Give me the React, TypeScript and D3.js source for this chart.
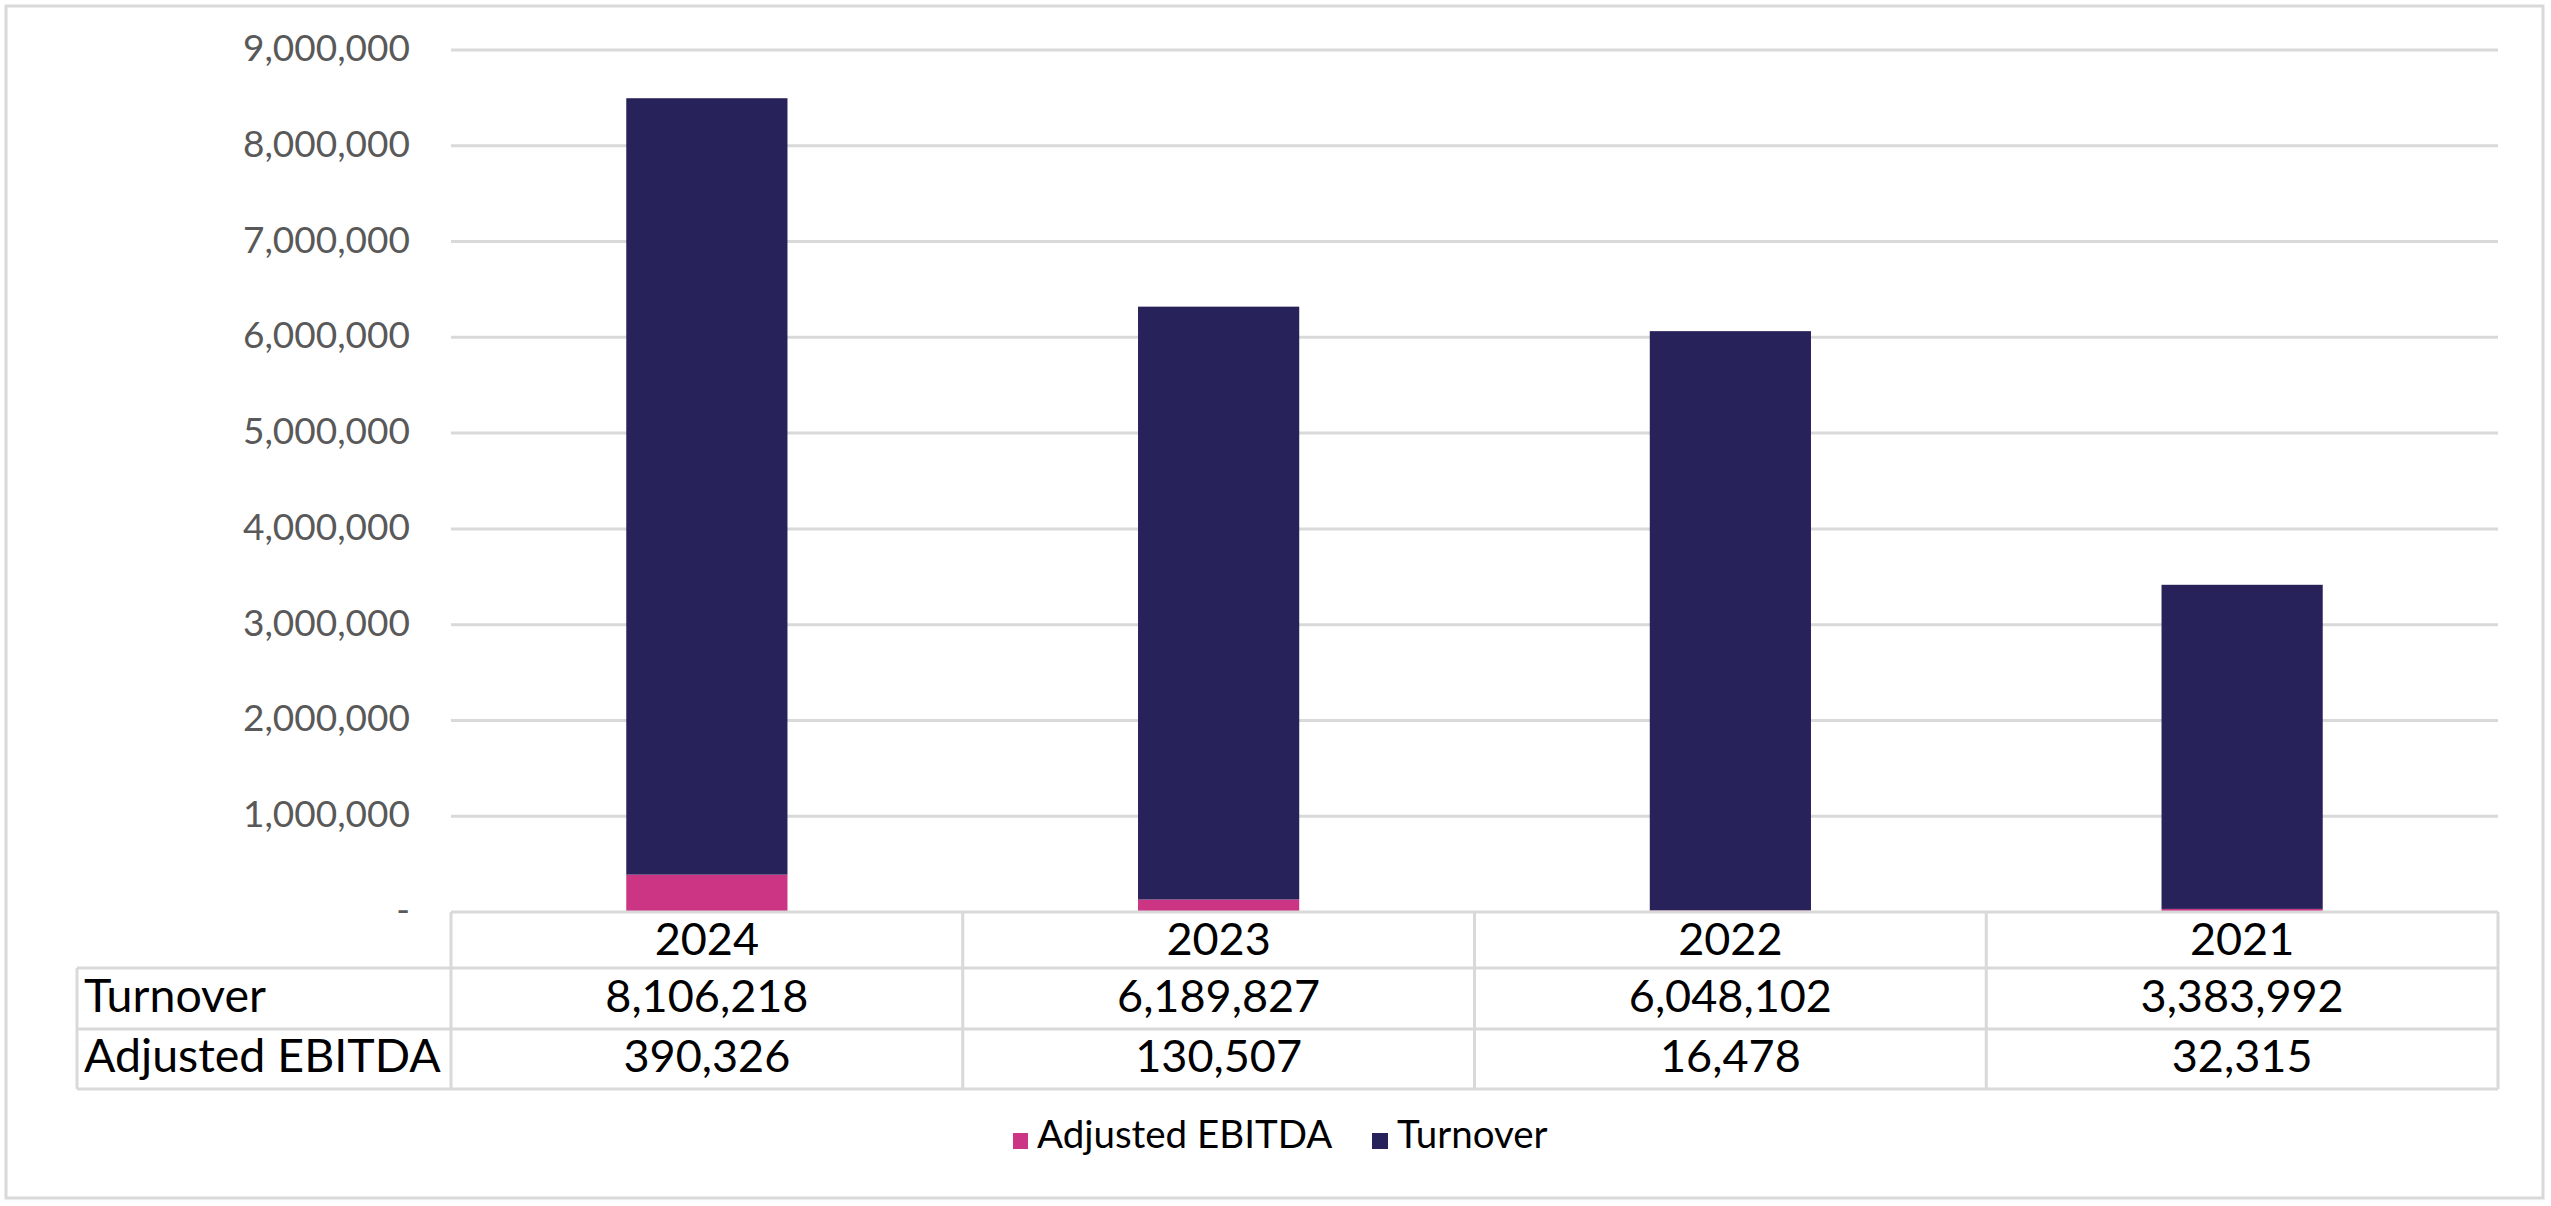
import { useEffect } from "react";
import { scaleBand, scaleLinear, format } from "d3";

const years = ["2024", "2023", "2022", "2021"];
const turnover = [8106218, 6189827, 6048102, 3383992];
const ebitda = [390326, 130507, 16478, 32315];
const yTicks = [0, 1000000, 2000000, 3000000, 4000000, 5000000, 6000000, 7000000, 8000000, 9000000];

const width = 2551;
const height = 1206;

const NAVY = "#28225A";
const PINK = "#CC3584";
const GRID = "#D9D9D9";
const FONT = "Lato, 'Open Sans', sans-serif";

const plotLeft = 451;
const plotRight = 2498;
const baseY = 912;
const topY = 50;
const rowH = [912, 968, 1029, 1089];
const labelLeft = 77;

function App() {
  useEffect(() => {
    document.body.style.margin = "0";
  }, []);

  const x = scaleBand().domain(years).range([plotLeft, plotRight]).paddingInner(0);
  const y = scaleLinear().domain([0, 9000000]).range([baseY, topY]);
  const barW = x.bandwidth() * 0.315;
  const fmt = format(",");

  return (
    <svg width={width} height={height} style={{ position: "absolute", left: 0, top: 0 }} fontFamily={FONT}>
      <rect x={0} y={0} width={width} height={height} fill="#fff" />
      <rect x={6} y={6} width={2537} height={1192} fill="none" stroke={GRID} strokeWidth={3} />

      {/* gridlines + tick labels */}
      {yTicks.map((t) => (
        <g key={t}>
          {t > 0 && (
            <line x1={plotLeft} x2={plotRight} y1={y(t)} y2={y(t)} stroke={GRID} strokeWidth={3} />
          )}
          <text x={410} y={y(t) + 11} textAnchor="end" fontSize={37} fill="#595959">
            {t === 0 ? "-" : fmt(t)}
          </text>
        </g>
      ))}

      {/* stacked bars: EBITDA at the bottom, turnover on top */}
      {years.map((yr, i) => {
        const bx = (x(yr) as number) + (x.bandwidth() - barW) / 2;
        return (
          <g key={yr}>
            <rect x={bx} width={barW} y={y(ebitda[i])} height={baseY - y(ebitda[i])} fill={PINK} />
            <rect
              x={bx}
              width={barW}
              y={y(ebitda[i] + turnover[i])}
              height={y(ebitda[i]) - y(ebitda[i] + turnover[i])}
              fill={NAVY}
            />
          </g>
        );
      })}

      {/* data table */}
      <g stroke={GRID} strokeWidth={3}>
        <line x1={plotLeft} x2={plotRight} y1={rowH[0]} y2={rowH[0]} />
        <line x1={labelLeft} x2={plotRight} y1={rowH[1]} y2={rowH[1]} />
        <line x1={labelLeft} x2={plotRight} y1={rowH[2]} y2={rowH[2]} />
        <line x1={labelLeft} x2={plotRight} y1={rowH[3]} y2={rowH[3]} />
        <line x1={labelLeft} x2={labelLeft} y1={rowH[1]} y2={rowH[3]} />
        {[...years.map((yr) => x(yr) as number), plotRight].map((vx, i) => (
          <line key={i} x1={vx} x2={vx} y1={rowH[0]} y2={rowH[3]} />
        ))}
      </g>
      <g fontSize={45} fill="#000">
        {years.map((yr, i) => {
          const cx = (x(yr) as number) + x.bandwidth() / 2;
          return (
            <g key={yr}>
              <text x={cx} y={955} textAnchor="middle">{yr}</text>
              <text x={cx} y={1012} textAnchor="middle">{fmt(turnover[i])}</text>
              <text x={cx} y={1072} textAnchor="middle">{fmt(ebitda[i])}</text>
            </g>
          );
        })}
        <text x={84} y={1012} fontSize={46.5}>Turnover</text>
        <text x={84} y={1072} fontSize={46.5}>Adjusted EBITDA</text>
      </g>

      {/* legend */}
      <g fontSize={38.5} fill="#000">
        <rect x={1013} y={1133} width={15} height={16} fill={PINK} />
        <text x={1037} y={1148}>Adjusted EBITDA</text>
        <rect x={1372} y={1133} width={16} height={16} fill={NAVY} />
        <text x={1397} y={1148}>Turnover</text>
      </g>
    </svg>
  );
}

export default App;
